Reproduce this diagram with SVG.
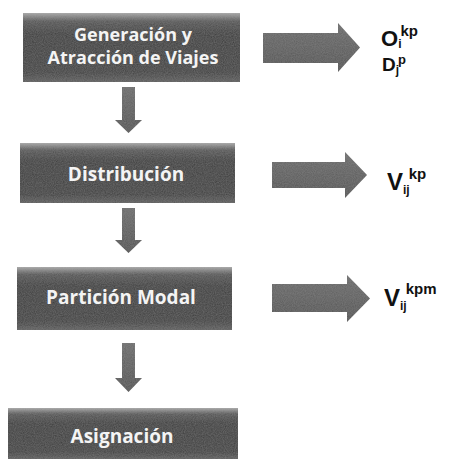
<svg xmlns="http://www.w3.org/2000/svg" width="450" height="459" viewBox="0 0 450 459">
<defs>
<linearGradient id="boxg" x1="0" y1="0" x2="0" y2="1">
<stop offset="0" stop-color="#a8a8a8"/>
<stop offset="0.12" stop-color="#555555"/>
<stop offset="0.3" stop-color="#3a3a3a"/>
<stop offset="0.85" stop-color="#3c3c3c"/>
<stop offset="1" stop-color="#5a5a5a"/>
</linearGradient>
<linearGradient id="arrg" x1="0" y1="0" x2="0" y2="1">
<stop offset="0" stop-color="#6a6a6a"/>
<stop offset="1" stop-color="#505050"/>
</linearGradient>
<filter id="grain" x="0" y="0" width="1" height="1">
<feTurbulence type="fractalNoise" baseFrequency="0.9" numOctaves="2" seed="3" result="n"/>
<feColorMatrix in="n" type="matrix" values="0 0 0 0 0.5  0 0 0 0 0.5  0 0 0 0 0.5  0 0 0 0.22 0" result="g"/>
<feComposite in="g" in2="SourceGraphic" operator="in" result="gc"/>
<feMerge><feMergeNode in="SourceGraphic"/><feMergeNode in="gc"/></feMerge>
</filter>
</defs>
<style>
.box{fill:url(#boxg);filter:url(#grain);}
.lbl{font-family:"Open Sans","DejaVu Sans",sans-serif;font-weight:bold;font-size:19px;fill:#f4f4f4;text-anchor:middle;}
.arr{fill:url(#arrg);filter:url(#grain);}
.var{font-family:"Liberation Sans",Arial,sans-serif;font-weight:bold;fill:#111;}
.big{font-size:24px;}
.sup{font-size:15px;}
.sub{font-size:12px;}
</style>
<g id="connectors">
<path class="arr" d="M122,87 H135 V120 H142 L128.5,133 L115,120 H122 Z"/>
<path class="arr" d="M122,208 H135 V240 H142 L128.5,253 L115,240 H122 Z"/>
<path class="arr" d="M122,343 H135 V378 H142 L128.5,392 L115,378 H122 Z"/>
<path class="arr" d="M263,33 H338 V23 L360,47.5 L338,72 V63 H263 Z"/>
<path class="arr" d="M272,162 H345 V152 L367,175 L345,198 V188 H272 Z"/>
<path class="arr" d="M272,284 H347 V275 L370,298.5 L347,322 V312 H272 Z"/>
</g>
<g id="n1">
<rect class="box" x="23" y="13" width="217" height="69"/>
<text class="lbl" x="133" y="41" style="font-size:18px">Generación y</text>
<text class="lbl" x="133" y="64" style="font-size:18px">Atracción de Viajes</text>
</g>
<g id="n2">
<rect class="box" x="20" y="143" width="215" height="60"/>
<text class="lbl" x="126" y="181">Distribución</text>
</g>
<g id="n3">
<rect class="box" x="17" y="267" width="215" height="63"/>
<text class="lbl" x="121" y="304">Partición Modal</text>
</g>
<g id="n4">
<rect class="box" x="8" y="408" width="230" height="51"/>
<text class="lbl" x="122" y="443">Asignación</text>
</g>
<g id="o1">
<text class="var" x="381" y="46"><tspan class="big" style="font-size:22px">O</tspan><tspan class="sub" dy="2">i</tspan><tspan class="sup" dx="-1" dy="-12">kp</tspan></text>
<text class="var" x="382" y="71"><tspan class="big" style="font-size:19px">D</tspan><tspan class="sub" dy="3">j</tspan><tspan class="sup" dx="-1" dy="-10" style="font-size:13px">p</tspan></text>
</g>
<g id="o2">
<text class="var" x="387" y="190"><tspan class="big">V</tspan><tspan class="sub" dy="4">ij</tspan><tspan class="sup" dx="-1" dy="-15">kp</tspan></text>
</g>
<g id="o3">
<text class="var" x="384" y="306"><tspan class="big">V</tspan><tspan class="sub" dy="4">ij</tspan><tspan class="sup" dx="-1" dy="-16">kpm</tspan></text>
</g>
</svg>
